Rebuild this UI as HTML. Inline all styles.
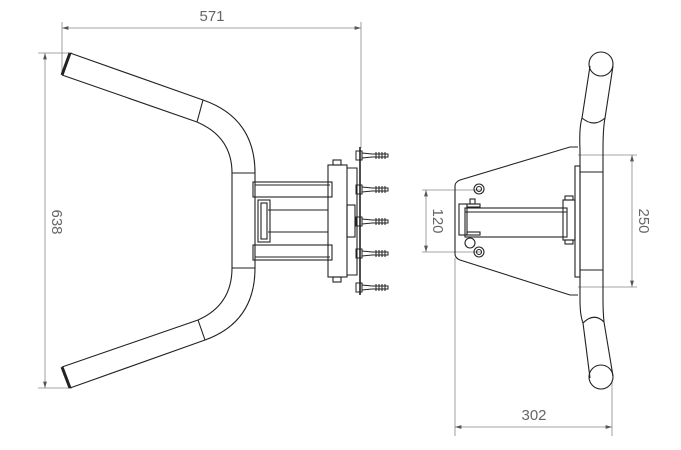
<!DOCTYPE html>
<html><head><meta charset="utf-8"><style>
html,body{margin:0;padding:0;background:#fff;}
svg{display:block;}
text{font-family:"Liberation Sans",sans-serif;font-size:15px;fill:#666;}
</style></head><body>
<svg width="681" height="450" viewBox="0 0 681 450" xmlns="http://www.w3.org/2000/svg">
<defs>
<marker id="a" viewBox="0 0 10 10" refX="10" refY="5" markerWidth="8" markerHeight="8" orient="auto-start-reverse"><path d="M0,2 L10,5 L0,8 z" fill="#555"/></marker>
</defs>
<!-- dimension lines -->
<g stroke="#888" stroke-width="0.8" fill="none">
<line x1="62" y1="22" x2="62" y2="75"/>
<line x1="361" y1="22" x2="361" y2="148"/>
<line x1="62" y1="28" x2="361" y2="28" marker-start="url(#a)" marker-end="url(#a)"/>
<line x1="38" y1="53" x2="72" y2="53"/>
<line x1="38" y1="388" x2="72" y2="388"/>
<line x1="45" y1="53" x2="45" y2="388" marker-start="url(#a)" marker-end="url(#a)"/>
<line x1="422" y1="190" x2="482" y2="190"/>
<line x1="422" y1="252" x2="482" y2="252"/>
<line x1="426" y1="190" x2="426" y2="252" marker-start="url(#a)" marker-end="url(#a)"/>
<line x1="578" y1="155" x2="637" y2="155"/>
<line x1="578" y1="287" x2="637" y2="287"/>
<line x1="632" y1="155" x2="632" y2="287" marker-start="url(#a)" marker-end="url(#a)"/>
<line x1="455" y1="258" x2="455" y2="436"/>
<line x1="612" y1="380" x2="612" y2="436"/>
<line x1="455" y1="427" x2="612" y2="427" marker-start="url(#a)" marker-end="url(#a)"/>
</g>
<text x="212" y="21" text-anchor="middle">571</text>
<text x="534" y="420" text-anchor="middle">302</text>
<text transform="translate(52,222) rotate(90)" text-anchor="middle">638</text>
<text transform="translate(433,221) rotate(90)" text-anchor="middle">120</text>
<text transform="translate(639,221) rotate(90)" text-anchor="middle">250</text>

<!-- left view -->
<g stroke="#222" stroke-width="1.1" fill="none">
<path d="M70,53 L203,100 Q255,118 255,173 L255,268 Q255,322 205,340 L70,388"/>
<path d="M62,75 L197,122 Q232,137 232,173 L232,268 Q232,305 198,320 L62,367"/>
<line x1="203" y1="100" x2="197" y2="122"/>
<line x1="205" y1="340" x2="198" y2="320"/>
<line x1="232" y1="173" x2="255" y2="173"/>
<line x1="232" y1="268" x2="255" y2="268"/>
<path d="M70,53 L62,75" stroke-width="3"/>
<path d="M70,388 L62,367" stroke-width="3"/>
<rect x="253" y="182" width="79" height="15"/>
<rect x="253" y="245" width="79" height="15"/>
<line x1="255" y1="185" x2="330" y2="185"/>
<line x1="255" y1="257" x2="330" y2="257"/>
<line x1="268" y1="210" x2="328" y2="210"/>
<line x1="268" y1="232" x2="328" y2="232"/>
<rect x="258" y="200" width="12" height="42"/>
<rect x="261" y="203" width="6" height="36"/>
<rect x="328" y="165" width="19" height="112"/>
<rect x="333" y="160" width="8" height="5"/>
<rect x="333" y="277" width="8" height="5"/>
<path d="M347,168 L357,168 L357,275 L347,275"/>
<rect x="347" y="205" width="8" height="32"/>
<line x1="360" y1="147" x2="360" y2="295" stroke-width="1.6"/>
</g>
<g stroke="#222" stroke-width="1" fill="none">
<g id="anc">
<rect x="356" y="151" width="6" height="9"/>
<path d="M362,153 L372,154 L388,154 L388,157 L372,157 L362,158"/>
<line x1="376" y1="152" x2="376" y2="159"/><line x1="379" y1="152" x2="379" y2="159"/><line x1="382" y1="152" x2="382" y2="159"/><line x1="385" y1="152" x2="385" y2="159"/>
</g>
<use href="#anc" y="34"/>
<use href="#anc" y="66"/>
<use href="#anc" y="98"/>
<use href="#anc" y="132"/>
</g>

<!-- right view -->
<g stroke="#222" stroke-width="1.1" fill="none">
<path d="M578,147 L570,147 L460,180 Q455,182 455,186 L455,254 Q455,258 460,260 L570,295 L578,295"/>
<rect x="575" y="166" width="5" height="111"/>
<line x1="580" y1="172" x2="603" y2="172"/>
<line x1="580" y1="270" x2="603" y2="270"/>
<!-- tube -->
<path d="M590,66 L582,118 Q594,128 605,118 L613,66"/>
<circle cx="601" cy="64" r="12"/>
<path d="M582,118 Q579,128 580,150 L580,300 Q580,315 583,323"/>
<path d="M605,118 Q603,128 603,150 L603,300 Q603,312 604,322"/>
<path d="M583,323 Q594,312 604,322 L613,376"/>
<path d="M583,323 L590,378"/>
<circle cx="601" cy="377" r="12"/>
<!-- arm -->
<rect x="465" y="208" width="102" height="29"/>
<line x1="465" y1="212" x2="567" y2="212"/>
<rect x="459" y="204" width="8" height="31"/>
<rect x="467" y="204" width="13" height="3"/>
<rect x="467" y="232" width="13" height="3"/>
<rect x="470" y="199" width="5" height="5"/>
<rect x="563" y="200" width="12" height="40"/>
<rect x="565" y="196" width="8" height="4"/>
<rect x="565" y="240" width="8" height="4"/>
<circle cx="470" cy="243" r="5"/>
<circle cx="479" cy="189" r="5"/><circle cx="479" cy="189" r="2.5"/>
<circle cx="479" cy="252" r="5"/><circle cx="479" cy="252" r="2.5"/>
</g>
</svg>
</body></html>
